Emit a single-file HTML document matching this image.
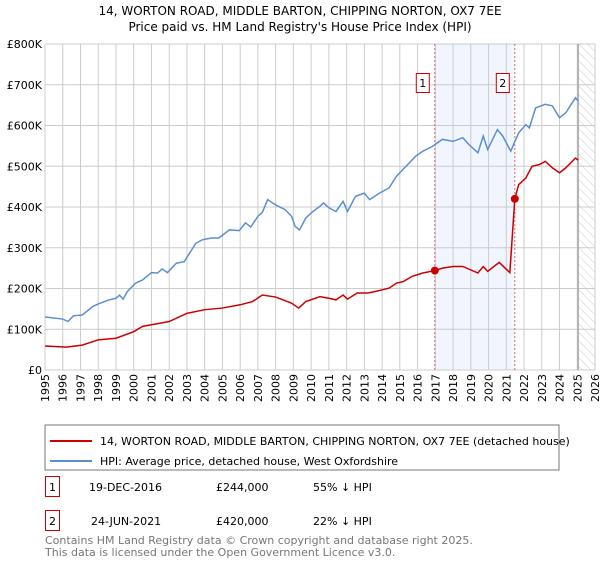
<!DOCTYPE html>
<html><head><meta charset="utf-8"><style>
body{margin:0;background:#fff;font-family:"DejaVu Sans","Liberation Sans",sans-serif;}
svg text{font-family:"DejaVu Sans","Liberation Sans",sans-serif;}
</style></head><body>
<svg id="c" width="600" height="560" xmlns="http://www.w3.org/2000/svg">
<defs><pattern id="hatch" width="6" height="6" patternUnits="userSpaceOnUse" patternTransform="rotate(-45)"><line x1="0" y1="0" x2="0" y2="6" stroke="#ccc" stroke-width="1"/></pattern></defs>
<text x="300" y="15" text-anchor="middle" font-size="12" fill="#000">14, WORTON ROAD, MIDDLE BARTON, CHIPPING NORTON, OX7 7EE</text>
<text x="300" y="31" text-anchor="middle" font-size="12" fill="#000">Price paid vs. HM Land Registry's House Price Index (HPI)</text>
<g id="grid"></g><g id="marks"></g><g id="axes"></g>
<rect x="45" y="425" width="514" height="45" fill="#fff" stroke="#777"/>
<line x1="50" y1="441" x2="92" y2="441" stroke="#cc0000" stroke-width="2"/>
<text x="100" y="445" font-size="11">14, WORTON ROAD, MIDDLE BARTON, CHIPPING NORTON, OX7 7EE (detached house)</text>
<line x1="50" y1="461" x2="92" y2="461" stroke="#5b8fd0" stroke-width="2"/>
<text x="100" y="465" font-size="11">HPI: Average price, detached house, West Oxfordshire</text>
<g>
<rect x="45.5" y="476.5" width="14" height="20" fill="#fff" stroke="#cc0000"/><text x="52.5" y="491" text-anchor="middle" font-size="11">1</text>
<text x="89" y="491" font-size="11">19-DEC-2016</text><text x="216" y="491" font-size="11">£244,000</text><text x="313" y="491" font-size="11">55% ↓ HPI</text></g>
<g>
<rect x="45.5" y="510.5" width="14" height="20" fill="#fff" stroke="#cc0000"/><text x="52.5" y="525" text-anchor="middle" font-size="11">2</text>
<text x="91" y="525" font-size="11">24-JUN-2021</text><text x="216" y="525" font-size="11">£420,000</text><text x="313" y="525" font-size="11">22% ↓ HPI</text></g>
<text x="45" y="544" font-size="11" fill="#777">Contains HM Land Registry data © Crown copyright and database right 2025.</text>
<text x="45" y="556" font-size="11" fill="#777">This data is licensed under the Open Government Licence v3.0.</text>
</svg>
<script>
const yTicks=[0,100,200,300,400,500,600,700,800];
const yTickLabels=["£0","£100K","£200K","£300K","£400K","£500K","£600K","£700K","£800K"];
const xYears=[1995,1996,1997,1998,1999,2000,2001,2002,2003,2004,2005,2006,2007,2008,2009,2010,2011,2012,2013,2014,2015,2016,2017,2018,2019,2020,2021,2022,2023,2024,2025,2026];
const hpiT=[1995,1996,1996.3,1996.6,1997.1,1997.7,1998,1998.6,1999,1999.2,1999.4,1999.65,2000.1,2000.5,2001,2001.35,2001.6,2001.9,2002.4,2002.85,2003.5,2003.9,2004.4,2004.8,2005.4,2005.95,2006.3,2006.6,2007,2007.25,2007.55,2008,2008.55,2008.9,2009.1,2009.35,2009.7,2010.1,2010.5,2010.7,2011,2011.4,2011.8,2012.05,2012.5,2013,2013.3,2013.85,2014.4,2014.8,2015.35,2015.9,2016.3,2016.85,2017.4,2018,2018.55,2018.9,2019.4,2019.7,2019.95,2020.5,2020.8,2021.25,2021.7,2022.1,2022.3,2022.65,2023.2,2023.6,2024,2024.35,2024.9,2025.05];
const hpiV=[130,125,119,133,135,156,162,172,176,184,174,193,213,221,239,238,248,239,262,266,311,320,324,324,344,342,361,351,377,387,418,405,393,377,352,344,373,389,402,410,398,389,414,389,426,434,418,434,447,475,500,525,537,549,566,561,570,553,533,574,541,590,574,537,582,602,594,643,652,648,619,631,668,660];
const ppT=[1995,1996.2,1997.1,1998,1999,2000,2000.5,2002,2003,2004,2005,2006,2006.7,2007.25,2008,2008.9,2009.3,2009.7,2010.5,2011,2011.4,2011.8,2012.05,2012.6,2013.2,2013.65,2014.4,2014.8,2015.2,2015.7,2016.3,2016.97,2017.4,2018,2018.55,2019.4,2019.7,2019.95,2020.6,2021.2,2021.48,2021.7,2022.1,2022.45,2022.85,2023.2,2023.6,2024,2024.35,2024.9,2025.05];
const ppV=[59,56,61,74,78,94,107,119,139,148,152,160,168,184,179,164,152,168,180,176,172,184,174,189,189,193,201,213,217,230,238,244,250,254,254,238,254,242,264,239,420,455,471,500,504,512,496,484,496,520,515];
const saleT=[2016.97,2021.48];
const saleV=[244,420];
const saleLabels=["1","2"];
const NS="http://www.w3.org/2000/svg";
const X0=45,X1=595,Y0=370,Y1=44;
const xs=t=>X0+(t-1995)/(2026-1995)*(X1-X0);
const ys=v=>Y0-v/800*(Y0-Y1);
function mk(tag,attrs,parent){const e=document.createElementNS(NS,tag);for(const k in attrs)e.setAttribute(k,attrs[k]);parent.appendChild(e);return e;}
const grid=document.getElementById('grid'),marks=document.getElementById('marks'),axes=document.getElementById('axes');
let r=mk('rect',{x:xs(saleT[0]),y:Y1,width:xs(saleT[1])-xs(saleT[0]),height:Y0-Y1,fill:'#eef3fd',opacity:0.8},grid);


let h=mk('rect',{x:xs(2025.05),y:Y1,width:X1-xs(2025.05),height:Y0-Y1,fill:'url(#hatch)'},grid);


yTicks.forEach((v,i)=>{
 mk('line',{x1:X0,x2:X1,y1:ys(v),y2:ys(v),stroke:'#cccccc','stroke-width':1},grid);
 const t=mk('text',{x:X0-3,y:ys(v)+4,'text-anchor':'end','font-size':11},axes);t.textContent=yTickLabels[i];
 
 
});
xYears.forEach(y=>{
 mk('line',{x1:xs(y),x2:xs(y),y1:Y1,y2:Y0,stroke:'#cccccc','stroke-width':1},grid);
 const px=xs(y)+4, py=374;
 const t=mk('text',{x:px,y:py,'text-anchor':'end','font-size':11,transform:'rotate(-90 '+px+' '+py+')'},axes);t.textContent=y;
 
 
});
let bl=mk('line',{x1:xs(2025.05),x2:xs(2025.05),y1:Y1,y2:Y0,stroke:'#999','stroke-width':1.2},grid);


saleT.forEach((t,i)=>{
 const l=mk('line',{x1:xs(t),x2:xs(t),y1:Y1,y2:Y0,stroke:'#e06666','stroke-width':1,'stroke-dasharray':'2,2'},grid);
 
 
});
const hp=mk('polyline',{points:hpiT.map((t,i)=>xs(t)+','+ys(hpiV[i])).join(' '),fill:'none',stroke:'#5b8fd0','stroke-width':1.5},marks);


const pp=mk('polyline',{points:ppT.map((t,i)=>xs(t)+','+ys(ppV[i])).join(' '),fill:'none',stroke:'#cc0000','stroke-width':1.5},marks);


saleT.forEach((t,i)=>{
 const c=mk('circle',{cx:xs(t),cy:ys(saleV[i]),r:4,fill:'#cc0000'},marks);
 
 
 const g=mk('g',{},marks);
 
 
 mk('rect',{x:xs(t)-18.5,y:73.5,width:13,height:19,fill:'#fff',stroke:'#cc0000'},g);
 const tx=mk('text',{x:xs(t)-12,y:87,'text-anchor':'middle','font-size':11},g);tx.textContent=saleLabels[i];
});
</script>
</body></html>
